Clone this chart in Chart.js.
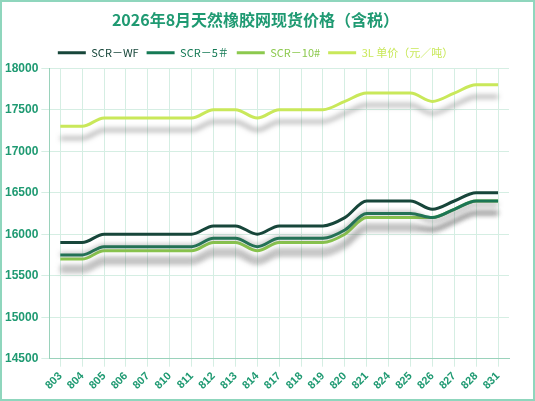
<!DOCTYPE html><html><head><meta charset="utf-8"><script src="https://cdn.jsdelivr.net/npm/chart.js@4"></script>
<style>body{margin:0;background:#fff}#w{width:531px;height:397px;border:2px solid #8fd6bd;position:relative}</style></head><body><div id="w"><canvas id="c"></canvas></div><script>
const categories=["803","804","805","806","807","810","811","812","813","814","817","818","819","820","821","824","825","826","827","828","831"];
const scrWF=[15900,15900,16000,16000,16000,16000,16000,16100,16100,16000,16100,16100,16100,16200,16400,16400,16400,16300,16400,16500,16500];
const scr5=[15750,15750,15850,15850,15850,15850,15850,15950,15950,15850,15950,15950,15950,16050,16250,16250,16250,16200,16300,16400,16400];
const scr10=[15700,15700,15800,15800,15800,15800,15800,15900,15900,15800,15900,15900,15900,16000,16200,16200,16200,16200,16300,16400,16400];
const l3=[17300,17300,17400,17400,17400,17400,17400,17500,17500,17400,17500,17500,17500,17600,17700,17700,17700,17600,17700,17800,17800];
const yTicks=[14500,15000,15500,16000,16500,17000,17500,18000];
const shadow={id:'sh',beforeDatasetDraw(ch){const x=ch.ctx;x.save();x.shadowColor='rgba(90,90,90,0.55)';x.shadowBlur=5;x.shadowOffsetY=12;},afterDatasetDraw(ch){ch.ctx.restore();}};
const ds=(l,d,c)=>({label:l,data:d,borderColor:c,backgroundColor:c,borderWidth:3,pointRadius:0,tension:0.4,cubicInterpolationMode:'monotone'});
new Chart(document.getElementById('c'),{type:'line',plugins:[shadow],data:{labels:categories,datasets:[ds('SCR－WF',scrWF,'#17463a'),ds('SCR－5＃',scr5,'#157a55'),ds('SCR－10#',scr10,'#8cc94e'),ds('3L 单价（元／吨）',l3,'#c9e85a')]},
options:{responsive:true,maintainAspectRatio:false,animation:false,layout:{padding:{left:0,right:24,top:4,bottom:4}},
plugins:{title:{display:true,text:'2026年8月天然橡胶网现货价格（含税）',color:'#1f9a72',font:{size:16,weight:'bold',family:'Noto Sans CJK SC'},padding:{top:4,bottom:10}},
legend:{labels:{boxWidth:28,boxHeight:3,padding:8,color:'#333',font:{size:11,family:'Noto Sans CJK SC'},generateLabels(ch){return ch.data.datasets.map((d,i)=>({text:d.label,fillStyle:d.borderColor,strokeStyle:d.borderColor,lineWidth:0,datasetIndex:i,fontColor:['#17463a','#157a55','#8cc94e','#c9e85a'][i]}));}}}},
scales:{y:{min:14500,max:18000,afterBuildTicks(a){a.ticks=yTicks.map(v=>({value:v}));},ticks:{color:'#1f9a72',font:{size:12,weight:'bold'},callback:v=>String(v)},grid:{color:'#d5eee3'},border:{color:'#9ad2bb'}},
x:{offset:true,ticks:{color:'#1f9a72',autoSkip:false,maxRotation:45,minRotation:45,font:{size:11,weight:'bold'}},grid:{color:'#d5eee3',offset:false},border:{color:'#9ad2bb'}}}}});
</script></body></html>
